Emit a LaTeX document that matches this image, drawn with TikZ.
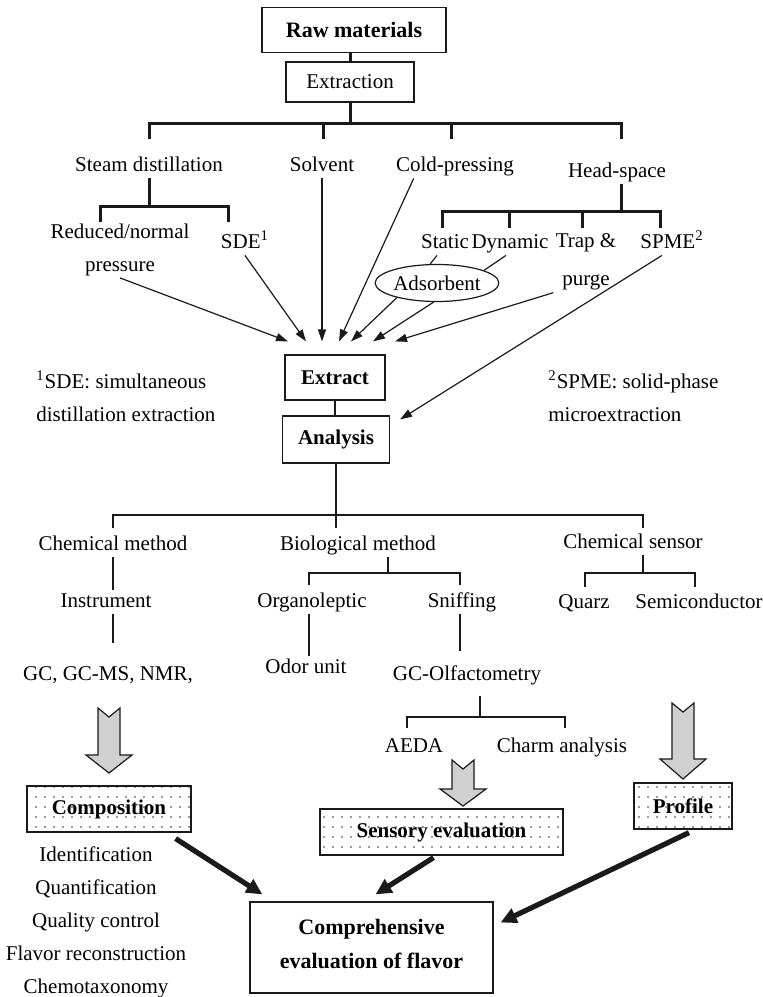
\documentclass[tikz,border=0pt]{standalone}
\usepackage{fontspec}
\setmainfont{Liberation Serif}
\usepackage{tikz}
\usetikzlibrary{arrows.meta,positioning,shapes.geometric,patterns,calc}
\definecolor{InkBlack}{HTML}{1A1A1A}
\definecolor{ArrowGray}{HTML}{D0D0D0}
\definecolor{DotGray}{HTML}{333333}
\pgfdeclarepatternformonly{sparse dots}{\pgfqpoint{-1pt}{-1pt}}{\pgfqpoint{1pt}{1pt}}{\pgfqpoint{4.5pt}{5pt}}%
  {\pgfpathcircle{\pgfqpoint{0pt}{0pt}}{0.45pt}\pgfusepath{fill}}
\tikzset{
  term/.style={inner sep=1pt,text height=7.5pt,text depth=2.5pt,font=\fontsize{10.5}{12}\selectfont},
  twoline/.style={inner sep=1pt,align=center,font=\fontsize{10.5}{16.5}\selectfont},
  box/.style={draw=InkBlack,line width=0.6pt,inner sep=2pt,font=\fontsize{10.5}{12}\selectfont\bfseries},
  plainbox/.style={draw=InkBlack,line width=0.6pt,inner sep=2pt,font=\fontsize{10.5}{12}\selectfont},
  dotbox/.style={box,pattern=sparse dots,pattern color=DotGray},
  link/.style={draw=InkBlack,line width=0.6pt},
  trunk/.style={draw=InkBlack,line width=1.5pt},
  feed/.style={-{Triangle[length=6pt,width=4pt]},draw=InkBlack,line width=0.6pt},
  merge/.style={-{Triangle[length=8pt,width=7.5pt]},draw=InkBlack,line width=2.6pt},
  blockarrow/.style={draw=InkBlack,fill=ArrowGray,line width=0.6pt,line join=miter}
}
% hollow gray arrow: x, top, shoulder, tip
\newcommand{\fatarrow}[4]{%
  \draw[blockarrow] (#1-11,#2) -- (#1,#2+9) -- (#1+11,#2) -- (#1+11,#3)
    -- (#1+23,#3) -- (#1,#4) -- (#1-23,#3) -- (#1-11,#3) -- cycle;}

\begin{document}
\begin{tikzpicture}[x=0.5pt,y=-0.5pt]
  \useasboundingbox (0,0) rectangle (762,997);

  % extraction methods
  \node[box,minimum width=92pt,minimum height=22.5pt,font=\fontsize{11}{13}\selectfont\bfseries] (raw) at (354,30) {Raw materials};
  \node[plainbox,minimum width=64pt,minimum height=20pt] (extraction) at (350,82) {Extraction};
  \draw[trunk] (extraction.north) -- (extraction.north |- raw.south);
  \draw[trunk] (extraction.south) -- (extraction.south |- 0,123);

  \node[term] (steam) at (149,166) {Steam distillation};
  \node[term] (solvent) at (322,166) {Solvent};
  \node[term] (cold) at (455,166) {Cold-pressing};
  \node[term] (head) at (617,172) {Head-space};
  \draw[trunk] (steam.north |- 0,139) -- (steam.north |- 0,123) -- (621,123) -- (621,139);
  \foreach \x in {323,451}
    \draw[trunk] (\x,123) -- (\x,139);

  \draw[trunk] (steam.south) -- (steam.south |- 0,206);
  \draw[trunk] (100,222) -- (100,206) -- (228,206) -- (228,222);
  \node[twoline] (reduced) at (120,249.5) {Reduced/normal\\pressure};
  \node[term] (sde) at (245,243) {SDE\textsuperscript{1}};

  \draw[trunk] (head.south -| 621,0) -- (621,211);
  \draw[trunk] (442,228) -- (442,211) -- (660,211) -- (660,228);
  \foreach \x in {509,582}
    \draw[trunk] (\x,211) -- (\x,228);
  \node[term] (static) at (445,243) {Static};
  \node[term] (dynamic) at (510,243) {Dynamic};
  \node[twoline,font=\fontsize{10.5}{19}\selectfont] (trap) at (586,262) {Trap \&\\purge};
  \node[term] (spme) at (672,243) {SPME\textsuperscript{2}};
  \node[ellipse,draw=InkBlack,line width=0.6pt,inner sep=0pt,minimum width=52.5pt,minimum height=18.5pt,
    font=\fontsize{10.5}{12}\selectfont] (ads) at (437,283) {Adsorbent};
  \draw[link] ([xshift=-4pt]static.south) -- (ads.110);
  \draw[link] ([xshift=-2pt]dynamic.south) -- (ads.15);

  \node[box,minimum width=50pt,minimum height=22.5pt] (extract) at (335,377.5) {Extract};
  \node[box,minimum width=53.5pt,minimum height=23.5pt] (analysis) at (336,439.5) {Analysis};
  \draw[link] (extract.south) -- (extract.south |- analysis.north);

  \foreach \i/\dx in {1/-47,2/-29,3/-13,4/4,5/16,6/38,7/60}
    \coordinate (in\i) at ([xshift=\dx*0.5pt,yshift=6.5pt]extract.north);
  \draw[feed] (reduced.south) -- (in1);
  \draw[feed] (sde.south) -- (in2);
  \draw[feed] (solvent.south) -- (in3);
  \draw[feed] ([xshift=10pt]cold.south west) -- (in4);
  \draw[feed] (ads.200) -- (in5);
  \draw[feed] (ads.-100) -- (in6);
  \draw[feed] (trap.south west) -- (in7);
  \draw[feed] ([xshift=-5pt]spme.south) -- ([xshift=5pt,yshift=-2pt]analysis.north east);

  \node[twoline,align=left,anchor=west] (note1) at (34,396.5) {\textsuperscript{1}SDE: simultaneous\\distillation extraction};
  \node[twoline,align=left,anchor=west] (note2) at (546,396.5) {\textsuperscript{2}SPME: solid-phase\\microextraction};

  % analysis methods
  \draw[link] (analysis.south) -- (analysis.south |- 0,528);
  \draw[link] (113,528) -- (113,515) -- (643,515) -- (643,528);
  \node[term] (chem) at (113,545) {Chemical method};
  \node[term] (bio) at (358,545) {Biological method};
  \node[term] (sensor) at (633,543) {Chemical sensor};

  \node[term] (instrument) at (106,602) {Instrument};
  \node[term] (gc) at (108,675) {GC, GC-MS, NMR,};
  \draw[link] (chem.south) -- (chem.south |- instrument.north);
  \draw[link] (chem.south |- instrument.south) -- (chem.south |- 0,643);

  \draw[link] (bio.south -| 388,0) -- (388,573);
  \draw[link] (309,585) -- (309,573) -- (460,573) -- (460,585);
  \node[term] (organo) at (312,602) {Organoleptic};
  \node[term] (sniff) at (462,602) {Sniffing};
  \node[term] (odor) at (306,668) {Odor unit};
  \node[term] (gco) at (467,675) {GC-Olfactometry};
  \draw[link] (organo.south -| 309,0) -- (309,656);
  \draw[link] (sniff.south -| 460,0) -- (460,651);
  \draw[link] (480,696) -- (480,717);
  \draw[link] (407,728) -- (407,717) -- (565,717) -- (565,728);
  \node[term] (aeda) at (414,747) {AEDA};
  \node[term] (charm) at (562,747) {Charm analysis};

  \draw[link] (sensor.south -| 643,0) -- (643,573);
  \draw[link] (585,587) -- (585,573) -- (695,573) -- (695,587);
  \node[term] (quarz) at (584,603) {Quarz};
  \node[term] (semi) at (699,603) {Semiconductor};

  % results
  \fatarrow{109}{708}{755}{773}
  \fatarrow{463}{760}{789}{806}
  \fatarrow{683}{703}{759}{779}

  \node[dotbox,minimum width=82pt,minimum height=23pt] (comp) at (109,809) {Composition};
  \node[dotbox,minimum width=121.5pt,minimum height=23pt] (sensory) at (441.5,832) {Sensory evaluation};
  \node[dotbox,minimum width=49pt,minimum height=23pt] (profile) at (683,806) {Profile};
  \node[twoline] (uses) at (96,922.5) {Identification\\Quantification\\Quality control\\Flavor reconstruction\\Chemotaxonomy};
  \node[box,align=center,minimum width=121.5pt,minimum height=45.5pt,font=\fontsize{11}{17}\selectfont\bfseries]
    (final) at (371.5,947.5) {Comprehensive\\evaluation of flavor\\[-13pt]};

  \draw[merge] ([xshift=-8pt,yshift=-3pt]comp.south east) -- ([xshift=6.5pt,yshift=3.5pt]final.north west);
  \draw[merge] ([xshift=-4pt,yshift=-1pt]sensory.south) -- ([xshift=2pt,yshift=3.5pt]final.north);
  \draw[merge] ([xshift=3pt,yshift=-1.5pt]profile.south) -- ([xshift=3.5pt,yshift=12.5pt]final.east);
\end{tikzpicture}
\end{document}
